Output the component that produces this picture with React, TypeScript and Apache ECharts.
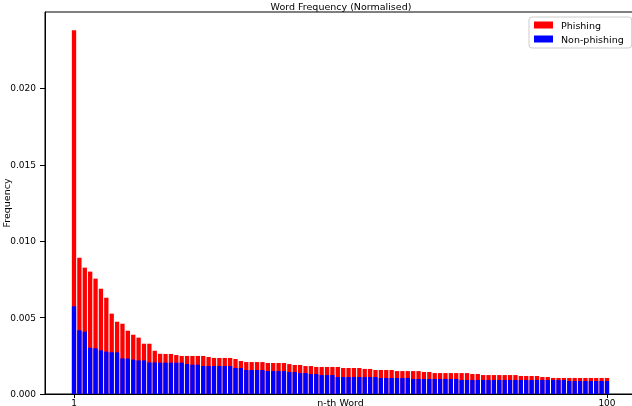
import React, { useEffect, useRef } from "react";
import * as echarts from "echarts";

const TITLE = "Word Frequency (Normalised)";
const SERIES_NAMES = ["Phishing", "Non-phishing"];
const X_NAME = "n-th Word";
const Y_NAME = "Frequency";
const X_TICKS = [1, 100];
const Y_TICKS = [0, 0.005, 0.01, 0.015, 0.02];

// n-th word rank (1..100)
const WORD_RANK: number[] = Array.from({ length: 100 }, (_, i) => i + 1);

const PHISHING: number[] = [
  0.0238, 0.00892, 0.00827, 0.00801, 0.00755, 0.00689, 0.0063, 0.00526, 0.00473, 0.0046,
  0.00414, 0.00388, 0.00369, 0.00329, 0.00329, 0.00283, 0.00263, 0.00262, 0.00262, 0.00255,
  0.00249, 0.00249, 0.00249, 0.00249, 0.00249, 0.00242, 0.00236, 0.00236, 0.00236, 0.00236,
  0.00229, 0.00216, 0.00209, 0.00209, 0.00209, 0.00209, 0.00203, 0.00203, 0.00203, 0.00203,
  0.00196, 0.0019, 0.0019, 0.00183, 0.00183, 0.00177, 0.00177, 0.00177, 0.00177, 0.00177,
  0.0017, 0.0017, 0.0017, 0.0017, 0.00164, 0.00164, 0.00157, 0.00157, 0.00157, 0.00157,
  0.0015, 0.0015, 0.0015, 0.0015, 0.0015, 0.00144, 0.00144, 0.00137, 0.00137, 0.00137,
  0.00137, 0.00137, 0.00137, 0.00137, 0.00131, 0.00131, 0.00124, 0.00124, 0.00124, 0.00124,
  0.00124, 0.00124, 0.00124, 0.00118, 0.00118, 0.00118, 0.00118, 0.00111, 0.00111, 0.00105,
  0.00105, 0.00105, 0.00105, 0.00105, 0.00105, 0.00105, 0.00105, 0.00105, 0.00105, 0.00105,
];

const NON_PHISHING: number[] = [
  0.00574, 0.00417, 0.00408, 0.00303, 0.00299, 0.00286, 0.00277, 0.00273, 0.00273, 0.00233,
  0.00233, 0.00225, 0.0022, 0.0022, 0.00207, 0.00207, 0.00205, 0.00205, 0.00205, 0.00205,
  0.00205, 0.00196, 0.00192, 0.00192, 0.00183, 0.00183, 0.00183, 0.00183, 0.00183, 0.00183,
  0.0017, 0.0017, 0.00157, 0.00157, 0.00157, 0.00157, 0.0015, 0.0015, 0.0015, 0.0015,
  0.00144, 0.00144, 0.00137, 0.00137, 0.00131, 0.00131, 0.00124, 0.00124, 0.00124, 0.00111,
  0.00111, 0.00111, 0.00111, 0.00111, 0.00111, 0.00111, 0.00111, 0.00105, 0.00105, 0.00105,
  0.00105, 0.00105, 0.00105, 0.00098, 0.00098, 0.00098, 0.00098, 0.00098, 0.00098, 0.00098,
  0.00098, 0.00098, 0.00092, 0.00092, 0.00092, 0.00092, 0.00092, 0.00092, 0.00092, 0.00092,
  0.00092, 0.00092, 0.00092, 0.00092, 0.00092, 0.00092, 0.00092, 0.00092, 0.00092, 0.00092,
  0.00092, 0.00092, 0.00085, 0.00085, 0.00085, 0.00085, 0.00085, 0.00085, 0.00085, 0.00085,
];

const FONT = "DejaVu Sans";

export default function App() {
  const ref = useRef<HTMLDivElement>(null);
  useEffect(() => {
    if (!ref.current) return;
    const chart = echarts.init(ref.current, null, { renderer: "svg" });
    const option: any = {
      animation: false,
      textStyle: { fontFamily: FONT },
      title: {
        text: TITLE,
        left: 341,
        top: 1,
        textAlign: "center",
        padding: 0,
        textStyle: { fontSize: 9.5, fontWeight: "normal", color: "#000", fontFamily: FONT },
      },
      legend: {
        orient: "vertical",
        left: 529,
        top: 17,
        padding: [3, 8, 4, 5],
        itemWidth: 19,
        itemHeight: 7,
        itemGap: 4,
        icon: "rect",
        borderColor: "#ccc",
        borderWidth: 1,
        borderRadius: 3,
        backgroundColor: "rgba(255,255,255,0.8)",
        textStyle: { fontSize: 9.5, color: "#000", fontFamily: FONT, padding: [0, 0, 0, 3] },
        data: SERIES_NAMES,
      },
      grid: {
        left: 45,
        right: -4,
        top: 12,
        bottom: 12,
        show: true,
        borderColor: "#000",
        borderWidth: 1,
        backgroundColor: "transparent",
        containLabel: false,
        outerBoundsMode: "none",
      },
      xAxis: {
        type: "value",
        min: -4.39,
        max: 105.39,
        name: X_NAME,
        nameLocation: "middle",
        nameGap: 3,
        nameMoveOverlap: false,
        nameTextStyle: { fontSize: 9.5, color: "#000", fontFamily: FONT },
        axisLine: { show: true, onZero: false, lineStyle: { color: "#000", width: 1 } },
        axisTick: { show: true, length: 4, customValues: X_TICKS, lineStyle: { color: "#000" } },
        axisLabel: { customValues: X_TICKS, fontSize: 9, color: "#000", margin: 4, fontFamily: FONT },
        splitLine: { show: false },
      },
      yAxis: {
        type: "value",
        min: 0,
        max: 0.025,
        name: Y_NAME,
        nameLocation: "middle",
        nameGap: 34,
        nameMoveOverlap: false,
        nameTextStyle: { fontSize: 9.5, color: "#000", fontFamily: FONT },
        axisLine: { show: true, onZero: false, lineStyle: { color: "#000", width: 1 } },
        axisTick: { show: true, length: 5, customValues: Y_TICKS, lineStyle: { color: "#000" } },
        axisLabel: {
          customValues: Y_TICKS,
          fontSize: 9,
          color: "#000",
          margin: 9,
          fontFamily: FONT,
          formatter: (v: number) => v.toFixed(3),
        },
        splitLine: { show: false },
      },
      series: [
        {
          name: SERIES_NAMES[0],
          type: "bar",
          barWidth: 4.3,
          barGap: "-100%",
          itemStyle: { color: "#ff0000" },
          data: WORD_RANK.map((r, i) => [r, PHISHING[i]]),
        },
        {
          name: SERIES_NAMES[1],
          type: "bar",
          barWidth: 4.3,
          barGap: "-100%",
          itemStyle: { color: "#0000ff" },
          data: WORD_RANK.map((r, i) => [r, NON_PHISHING[i]]),
        },
      ],
    };
    chart.setOption(option);
    return () => chart.dispose();
  }, []);
  return (
    <div
      ref={ref}
      style={{ position: "fixed", left: 0, top: 0, width: 632, height: 406 }}
    />
  );
}
